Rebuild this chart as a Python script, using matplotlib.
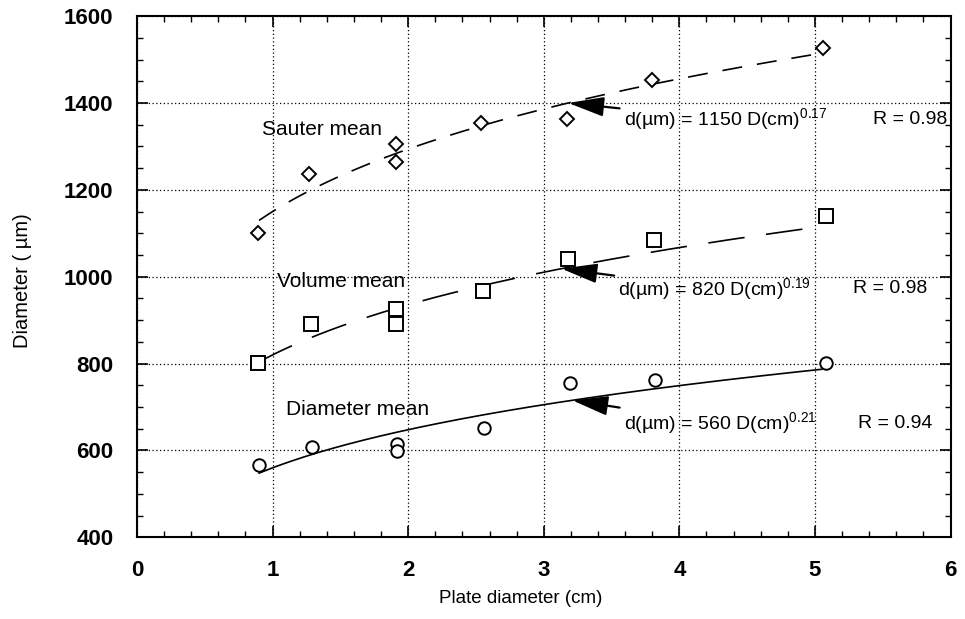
import numpy as np
import matplotlib
matplotlib.use("Agg")
import matplotlib.pyplot as plt
from matplotlib.ticker import MultipleLocator

plt.rcParams['font.family'] = ['Liberation Sans', 'DejaVu Sans']
plt.rcParams['mathtext.fontset'] = 'custom'
plt.rcParams['mathtext.rm'] = 'Liberation Sans'
plt.rcParams['mathtext.it'] = 'Liberation Sans:italic'

# measured points
sauter_x = [0.89, 1.27, 1.91, 1.91, 2.54, 3.17, 3.80, 5.06]
sauter_y = [1101, 1237, 1306, 1264, 1354, 1364, 1453, 1526]
volume_x = [0.89, 1.28, 1.91, 1.91, 2.55, 3.18, 3.81, 5.08]
volume_y = [802, 892, 926, 892, 968, 1040, 1085, 1140]
diam_x = [0.90, 1.29, 1.92, 1.92, 2.56, 3.19, 3.82, 5.08]
diam_y = [567, 609, 614, 599, 651, 756, 763, 802]

# power law fits d = a * D^b
fit_a = [1150, 820, 560]
fit_b = [0.17, 0.19, 0.21]
fit_R = [0.98, 0.98, 0.94]
fit_range = (0.9, 5.05)

xticks = [0, 1, 2, 3, 4, 5, 6]
yticks = [400, 600, 800, 1000, 1200, 1400, 1600]

fig = plt.figure(figsize=(9.65, 6.19), dpi=100)
ax = fig.add_axes([0.142, 0.132, 0.843, 0.842])

D = np.linspace(fit_range[0], fit_range[1], 200)
styles = [(0, (12, 9)), (0, (22, 13)), '-']
for a, b, ls in zip(fit_a, fit_b, styles):
    ax.plot(D, a * D ** b, color='black', lw=1.2, linestyle=ls)

mk = dict(mfc='white', mec='black', mew=1.4, ls='none', color='black')
ax.plot(sauter_x, sauter_y, marker='D', ms=7, **mk)
ax.plot(volume_x, volume_y, marker='s', ms=10, **mk)
ax.plot(diam_x, diam_y, marker='o', ms=9, **mk)

ax.text(0.92, 1338, 'Sauter mean', fontsize=15, va='center')
ax.text(1.03, 990, 'Volume mean', fontsize=15, va='center')
ax.text(1.10, 695, 'Diameter mean', fontsize=15, va='center')

tip_x = [3.18, 3.13, 3.21]
txt_pos = [(3.59, 1362), (3.55, 972), (3.59, 663)]
r_x = [5.43, 5.28, 5.32]
for tx, (px, py), a, b, r, rx in zip(tip_x, txt_pos, fit_a, fit_b, fit_R, r_x):
    ax.annotate('d(µm) = %d D(cm)$^{%.2f}$' % (a, b), xy=(tx, a * tx ** b), xytext=(px, py),
                fontsize=14, va='center', ha='left',
                arrowprops=dict(arrowstyle='-|>,head_length=1.1,head_width=0.3',
                                mutation_scale=20, color='black', lw=1.6,
                                shrinkA=1, shrinkB=0))
    ax.text(rx, py, 'R = %.2f' % r, fontsize=14, va='center', ha='left')

ax.set_xlim(0, 6)
ax.set_ylim(400, 1600)
ax.set_xticks(xticks)
ax.set_yticks(yticks)
ax.xaxis.set_minor_locator(MultipleLocator(0.2))
ax.yaxis.set_minor_locator(MultipleLocator(50))
ax.tick_params(which='both', direction='in', top=True, right=True)
ax.tick_params(which='major', length=8, width=1.2, labelsize=16)
ax.tick_params(axis='x', which='major', pad=16)
ax.tick_params(axis='y', which='major', pad=17)
ax.tick_params(which='minor', length=4, width=1)
for lab in ax.get_xticklabels() + ax.get_yticklabels():
    lab.set_fontweight('bold')
for s in ax.spines.values():
    s.set_linewidth(1.5)
ax.grid(True, which='major', linestyle=(0, (1, 2)), color='black', lw=0.9)

ax.set_xlabel('Plate diameter (cm)', fontsize=13.5)
ax.set_ylabel('Diameter ( µm)', fontsize=14.5)
ax.xaxis.set_label_coords(0.472, -0.102)
ax.yaxis.set_label_coords(-0.129, 0.493)

fig.savefig('out.png', dpi=100)
